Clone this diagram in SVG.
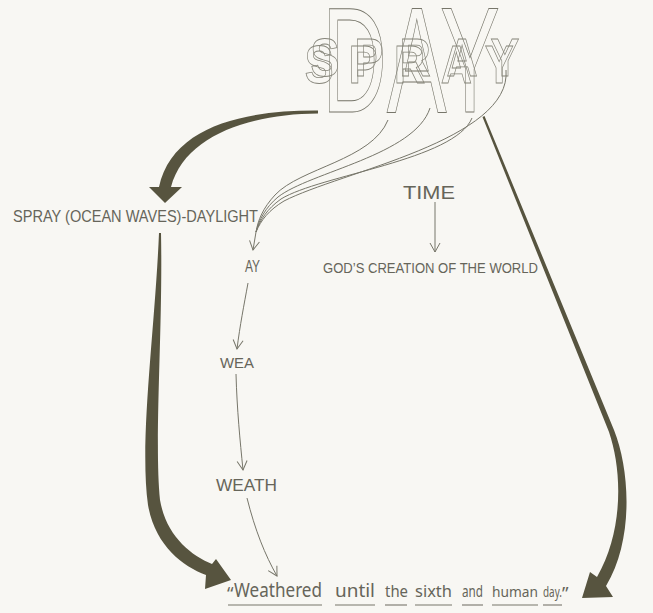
<svg xmlns="http://www.w3.org/2000/svg" width="653" height="613" viewBox="0 0 653 613">
<defs>
<style>
.lbl{font-family:"Liberation Sans","DejaVu Sans",sans-serif;fill:#66655a;}
.q{font-family:"Noto Sans","Liberation Sans",sans-serif;fill:#66655a;}
.thin{fill:none;stroke:#77766a;stroke-width:1;}
.thick{fill:#57543f;stroke:none;}
.ul{stroke:#77766a;stroke-width:1.1;}
.big{font-family:"Liberation Sans",sans-serif;fill:none;stroke:#77766a;stroke-width:0.9;}
.sp{font-family:"Liberation Sans",sans-serif;font-weight:bold;font-size:54px;fill:none;stroke:#86857a;stroke-width:0.8;}
</style>
<marker id="v" markerWidth="12" markerHeight="12" refX="10" refY="6" orient="auto" markerUnits="userSpaceOnUse">
<path d="M1,1 L10,6 L1,11" fill="none" stroke="#77766a" stroke-width="1"/>
</marker>
</defs>
<rect width="653" height="613" fill="#f8f7f3"/>

<g id="day-spray">
<text class="big" x="322" y="112" font-size="150" textLength="178" lengthAdjust="spacingAndGlyphs">DAY</text>
<g transform="scale(0.8,1)">
<text class="sp" x="388 443 499.5 558 613" y="76">SPRAY</text>
<text class="sp" x="381 436 492.5 551 606" y="83">SPRAY</text>
</g>
</g>

<g id="connectors">
<path class="thick" d="M318,110.5 C245,110 172,126 159,187 L149,187 L165,203 L182,187 L171,187 C185,135 250,114 318,113.5 Z"/>
<path class="thick" d="M159,233 C155,330 139,440 148,505 C155,545 182,566 206,575 L205,589 L231,580 L216,559 L212,564 C190,555 166,535 160,500 C154,440 163,330 161,233 Z"/>
<path class="thick" d="M482.5,117 L609,432 C622,470 624,530 597,577 L590,572 L582,598 L613,597 L606,586 C634,540 630,470 614,430 L484.5,116 Z"/>
<path class="thin" d="M388,120 C372,160 300,168 275,195 C263,208 258,220 256,232"/>
<path class="thin" d="M430,108 C415,155 310,172 278,197 C265,208 259,220 256,232"/>
<path class="thin" d="M472,118 C455,160 320,175 281,199 C267,209 260,220 256,232"/>
<path class="thin" d="M506,70 C512,140 340,172 284,201 C269,210 261,220 256,232"/>
<path class="thin" d="M256,232 L253,250" marker-end="url(#v)"/>
<path class="thin" d="M248,283 C244,305 240,325 237,349" marker-end="url(#v)"/>
<path class="thin" d="M236,374 C237,410 240,440 243,470" marker-end="url(#v)"/>
<path class="thin" d="M247,498 C255,530 265,555 277,576" marker-end="url(#v)"/>
<path class="thin" d="M435,202 L435,252" marker-end="url(#v)"/>
</g>

<g id="spray-daylight"><text class="lbl" x="13" y="222" font-size="17" textLength="245" lengthAdjust="spacingAndGlyphs">SPRAY (OCEAN WAVES)-DAYLIGHT</text></g>
<g id="ay"><text class="lbl" x="245" y="272" font-size="17" textLength="15" lengthAdjust="spacingAndGlyphs">AY</text></g>
<g id="wea"><text class="lbl" x="220" y="368" font-size="15" textLength="34" lengthAdjust="spacingAndGlyphs">WEA</text></g>
<g id="weath"><text class="lbl" x="216" y="491" font-size="16" textLength="61" lengthAdjust="spacingAndGlyphs">WEATH</text></g>
<g id="time"><text class="lbl" x="403" y="199" font-size="19" textLength="52" lengthAdjust="spacingAndGlyphs">TIME</text></g>
<g id="gods-creation"><text class="lbl" x="323" y="273" font-size="14" textLength="215" lengthAdjust="spacingAndGlyphs">GOD’S CREATION OF THE WORLD</text></g>

<g id="quote">
<text class="q" x="227" y="600" font-size="18">“</text>
<text class="q" x="234" y="597" font-size="20" textLength="88" lengthAdjust="spacingAndGlyphs">Weathered</text>
<text class="q" x="335" y="597" font-size="18" textLength="40" lengthAdjust="spacingAndGlyphs">until</text>
<text class="q" x="385" y="597" font-size="17" textLength="23" lengthAdjust="spacingAndGlyphs">the</text>
<text class="q" x="415" y="597" font-size="16" textLength="37" lengthAdjust="spacingAndGlyphs">sixth</text>
<text class="q" x="462" y="597" font-size="16" textLength="21" lengthAdjust="spacingAndGlyphs">and</text>
<text class="q" x="492" y="597" font-size="15" textLength="46" lengthAdjust="spacingAndGlyphs">human</text>
<text class="q" x="543" y="597" font-size="15" textLength="19" lengthAdjust="spacingAndGlyphs">day.</text>
<text class="q" x="562" y="600" font-size="18">”</text>
<line class="ul" x1="228" y1="605" x2="322" y2="605"/>
<line class="ul" x1="335" y1="605" x2="375" y2="605"/>
<line class="ul" x1="385" y1="605" x2="407" y2="605"/>
<line class="ul" x1="415" y1="605" x2="452" y2="605"/>
<line class="ul" x1="462" y1="605" x2="483" y2="605"/>
<line class="ul" x1="492" y1="605" x2="538" y2="605"/>
<line class="ul" x1="543" y1="605" x2="562" y2="605"/>
</g>
</svg>
